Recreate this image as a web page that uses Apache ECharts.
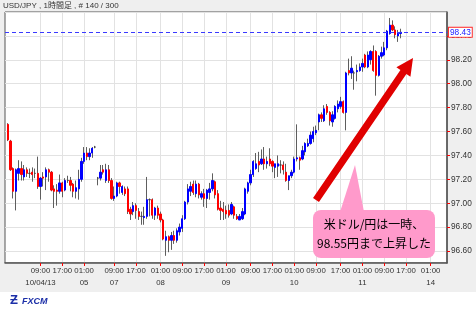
<!DOCTYPE html>
<html><head><meta charset="utf-8">
<script src="https://cdn.jsdelivr.net/npm/echarts@6/dist/echarts.min.js"></script>
<style>html,body{margin:0;padding:0;background:#efefef}#c{width:476px;height:309px}</style>
</head><body><div id="c"></div>
<script>
// ---- DATA ----
const titleText = 'USD/JPY , 1時間足 , # 140 / 300';
const opens = [97.66,97.52,97.29,97.10,97.25,97.29,97.22,97.28,97.25,97.26,97.25,97.25,97.14,97.22,97.22,97.28,97.26,97.12,97.11,97.10,97.17,97.11,97.19,97.19,97.16,97.10,97.12,97.20,97.35,97.42,97.39,97.42,97.47,
 97.21,97.21,97.28,97.19,97.28,97.19,97.04,97.06,97.17,97.09,97.12,97.12,96.95,96.93,96.98,96.93,96.89,96.88,96.89,97.03,97.03,96.90,96.96,96.91,96.86,96.69,96.72,96.69,96.73,96.69,96.76,96.79,96.87,97.01,97.10,97.16,97.08,97.16,
 97.05,97.08,97.04,97.09,97.12,97.18,97.08,96.96,96.95,96.94,96.94,96.91,96.97,96.89,96.86,96.87,96.91,97.10,97.17,97.24,97.29,97.35,97.33,97.37,97.33,97.37,97.35,97.30,97.31,97.32,97.32,97.26,97.19,97.23,97.26,97.37,97.38,
 97.37,97.43,97.48,97.50,97.54,97.59,97.68,97.74,97.69,97.81,97.76,97.68,97.71,97.79,97.81,97.85,97.76,98.11,98.09,98.09,98.10,98.11,98.14,98.24,98.14,98.20,98.27,98.27,98.07,98.23,98.24,98.30,98.42,98.49,98.45,98.40,98.42];
const closes = [97.53,97.28,97.10,97.28,97.29,97.24,97.28,97.25,97.25,97.24,97.25,97.14,97.21,97.21,97.28,97.26,97.11,97.10,97.10,97.17,97.10,97.19,97.19,97.15,97.10,97.13,97.20,97.35,97.42,97.39,97.42,97.46,97.47,
 97.21,97.26,97.26,97.28,97.19,97.04,97.06,97.17,97.14,97.14,97.08,96.93,96.91,96.98,96.94,96.89,96.89,96.89,97.03,97.03,96.90,96.96,96.90,96.86,96.70,96.72,96.69,96.73,96.69,96.77,96.80,96.87,97.01,97.12,97.14,97.09,97.16,97.07,
 97.08,97.04,97.11,97.12,97.19,97.07,96.95,96.94,96.93,96.91,96.90,96.99,96.90,96.87,96.89,96.93,97.12,97.17,97.24,97.35,97.33,97.32,97.37,97.33,97.35,97.33,97.31,97.33,97.33,97.32,97.28,97.19,97.23,97.26,97.37,97.38,97.36,
 97.44,97.50,97.50,97.57,97.60,97.61,97.74,97.71,97.79,97.76,97.69,97.74,97.81,97.83,97.85,97.76,98.09,98.09,98.13,98.09,98.11,98.14,98.17,98.14,98.24,98.27,98.11,98.07,98.23,98.26,98.30,98.44,98.49,98.45,98.41,98.42,98.43];
const lows = [97.52,97.27,97.04,96.94,97.19,97.19,97.19,97.22,97.21,97.18,97.21,97.12,97.03,97.14,97.11,97.18,97.10,96.96,96.98,97.08,97.05,97.10,97.17,97.10,97.05,97.04,97.03,97.18,97.33,97.36,97.36,97.38,97.46,
 97.15,97.19,97.24,97.17,97.17,97.03,97.02,97.05,97.08,97.07,97.06,96.91,96.86,96.90,96.87,96.86,96.82,96.82,96.87,96.89,96.87,96.86,96.87,96.84,96.69,96.56,96.59,96.61,96.66,96.67,96.73,96.76,96.86,96.99,97.06,97.07,97.05,97.04,
 97.03,96.97,96.96,97.03,97.10,97.04,96.94,96.86,96.86,96.87,96.88,96.90,96.87,96.86,96.86,96.86,96.90,97.08,97.15,97.22,97.28,97.26,97.32,97.28,97.29,97.31,97.26,97.21,97.22,97.25,97.24,97.18,97.11,97.21,97.25,97.35,97.28,
 97.36,97.40,97.47,97.49,97.51,97.57,97.61,97.68,97.68,97.74,97.65,97.64,97.70,97.76,97.79,97.75,97.61,98.07,98.04,97.95,98.02,98.10,98.10,98.13,98.13,98.16,98.10,97.90,98.06,98.21,98.23,98.28,98.41,98.44,98.38,98.35,98.38];
const highs = [97.67,97.53,97.30,97.29,97.36,97.35,97.32,97.30,97.29,97.30,97.29,97.39,97.22,97.26,97.30,97.29,97.27,97.15,97.16,97.24,97.18,97.21,97.23,97.22,97.17,97.19,97.28,97.38,97.47,97.47,97.46,97.47,97.48,
 97.22,97.32,97.32,97.33,97.32,97.21,97.14,97.18,97.18,97.15,97.14,97.14,96.97,97.01,97.00,96.96,96.93,96.97,97.22,97.04,97.04,96.97,96.98,96.93,96.87,96.77,96.73,96.76,96.77,96.79,96.83,96.90,97.02,97.16,97.18,97.19,97.19,97.17,
 97.10,97.12,97.12,97.17,97.25,97.19,97.11,97.02,97.01,96.98,96.99,97.01,96.98,96.91,96.91,96.96,97.13,97.18,97.28,97.36,97.42,97.43,97.45,97.47,97.39,97.46,97.36,97.33,97.40,97.36,97.35,97.33,97.23,97.28,97.39,97.66,97.39,
 97.48,97.51,97.54,97.60,97.64,97.65,97.75,97.76,97.82,97.83,97.77,97.77,97.82,97.86,97.89,97.86,98.10,98.21,98.23,98.11,98.16,98.17,98.21,98.25,98.27,98.28,98.32,98.28,98.24,98.31,98.35,98.45,98.55,98.53,98.48,98.45,98.46];
const lastPrice = 98.43;
const tickIdx = [13,21,29,40,48,57,65,73,81,90,98,106,114,123,131,139,147,156];
const tickTimes = ['09:00','17:00','01:00','09:00','17:00','01:00','09:00','17:00','01:00','09:00','17:00','01:00','09:00','17:00','01:00','09:00','17:00','01:00'];
const tickDates = ['10/04/13','','05','07','','08','','','09','','','10','','','11','','','14'];
const calloutText = '米ドル/円は一時、\n98.55円まで上昇した';

// ---- chart ----
const slotCount = 163, firstSlot = 1;
const cats = Array.from({length: slotCount}, (_, i) => String(i));
const timeMap = {}, dateMap = {};
tickIdx.forEach((t, j) => { timeMap[t] = tickTimes[j]; if (tickDates[j]) dateMap[t] = tickDates[j]; });
const isTick = (i) => timeMap[i] !== undefined;
const isDate = (i) => dateMap[i] !== undefined;

const wickData = opens.map((o, k) => [k + firstSlot, o, closes[k], lows[k], highs[k]]);
const bodyData = opens.map((o, k) => [k + firstSlot, o, closes[k], Math.min(o, closes[k]), Math.max(o, closes[k])]);

const chart = echarts.init(document.getElementById('c'), null, {renderer: 'canvas'});
const F = 'Liberation Sans, Arial, sans-serif';

// arrow geometry (annotation)
const tail = [316, 200], tip = [413, 58];
const dx = tip[0] - tail[0], dy = tip[1] - tail[1], L = Math.hypot(dx, dy);
const ux = dx / L, uy = dy / L, nx = -uy, ny = ux;
const hb = [tip[0] - 17 * ux, tip[1] - 17 * uy];

chart.setOption({
  animation: false,
  backgroundColor: '#efefef',
  grid: {left: 5, right: 29, top: 12, bottom: 46, show: true, backgroundColor: '#fff', borderColor: '#555', borderWidth: 1},
  xAxis: [{
    type: 'category', data: cats, boundaryGap: false,
    axisLine: {lineStyle: {color: '#555', width: 1.5}},
    axisTick: {interval: (i) => isTick(i), length: 3, lineStyle: {color: '#ff0000'}},
    axisLabel: {interval: (i) => isTick(i), formatter: (v, i) => timeMap[i] || '', fontSize: 7.8, fontFamily: F, color: '#333', margin: 4, showMinLabel: true, showMaxLabel: true, hideOverlap: false},
    splitLine: {show: true, interval: (i) => isTick(i), lineStyle: {color: '#e2e2e2'}}
  }, {
    type: 'category', data: cats, boundaryGap: false, position: 'bottom', offset: 12,
    axisLine: {show: false}, axisTick: {show: false}, splitLine: {show: false},
    axisLabel: {interval: (i) => isDate(i), formatter: (v, i) => dateMap[i] || '', fontSize: 7.8, fontFamily: F, color: '#333', margin: 4, showMinLabel: true, showMaxLabel: true, hideOverlap: false}
  }],
  yAxis: {
    type: 'value', position: 'right', min: 96.5, max: 98.6, scale: true, splitNumber: 10,
    axisLine: {show: true, lineStyle: {color: '#555', width: 1.5}},
    axisTick: {show: true, length: 3, lineStyle: {color: '#ff0000'}},
    axisLabel: {showMinLabel: false, showMaxLabel: false, formatter: (v) => v.toFixed(2), fontSize: 8.3, fontFamily: F, color: '#333', margin: 4},
    splitLine: {show: true, lineStyle: {color: '#e2e2e2'}}
  },
  series: [
    {type: 'candlestick', xAxisIndex: 0, data: wickData, encode: {x: 0, y: [1, 2, 3, 4]}, barWidth: 1, silent: true,
     itemStyle: {color: '#5e5e5e', color0: '#5e5e5e', borderColor: '#5e5e5e', borderColor0: '#5e5e5e', borderColorDoji: '#5e5e5e', borderWidth: 1},
     markLine: {silent: true, symbol: 'none', z: 10,
       lineStyle: {color: '#3a3aff', type: [4, 3], width: 1},
       label: {position: 'end', formatter: lastPrice.toFixed(2), color: '#2020ff', backgroundColor: '#fff', borderColor: '#ff3030', borderWidth: 1, padding: [1, 1, 0, 1], fontSize: 8.3, fontFamily: F, distance: 2},
       data: [{yAxis: lastPrice}]}},
    {type: 'candlestick', xAxisIndex: 0, data: bodyData, encode: {x: 0, y: [1, 2, 3, 4]}, barWidth: 1.8, silent: true,
     itemStyle: {color: '#0000ff', color0: '#ff0000', borderColor: '#0000ff', borderColor0: '#ff0000', borderColorDoji: '#444', borderWidth: 1}}
  ],
  graphic: [
    {type: 'rect', shape: {x: 0, y: 292, width: 476, height: 17}, style: {fill: '#fff'}, z: 1, silent: true},
    {type: 'text', x: 3, y: 2, style: {text: titleText, fontSize: 8, fontFamily: 'Liberation Sans, Noto Sans CJK JP, sans-serif', fill: '#333'}, z: 5},
    {type: 'text', x: 10, y: 294, style: {text: 'Ƶ', fontSize: 13, fontWeight: 'bold', fontFamily: F, fill: '#1c2fa8'}, z: 5},
    {type: 'text', x: 22, y: 297, style: {text: 'FXCM', fontSize: 9, fontWeight: 'bold', fontStyle: 'italic', fontFamily: F, fill: '#1c2fa8'}, z: 5},
    {type: 'polygon', z: 100, silent: true,
     shape: {points: [[tail[0] + 3.6 * nx, tail[1] + 3.6 * ny], [hb[0] + 3.6 * nx, hb[1] + 3.6 * ny], [hb[0] + 8.5 * nx, hb[1] + 8.5 * ny], tip, [hb[0] - 8.5 * nx, hb[1] - 8.5 * ny], [hb[0] - 3.6 * nx, hb[1] - 3.6 * ny], [tail[0] - 3.6 * nx, tail[1] - 3.6 * ny]]},
     style: {fill: '#e00000'}},
    {type: 'polygon', z: 100, silent: true, shape: {points: [[340, 212], [364, 212], [355, 165]]}, style: {fill: '#ff9acb'}},
    {type: 'rect', z: 100, silent: true, shape: {x: 313, y: 210, width: 122, height: 48, r: 8}, style: {fill: '#ff9acb'}},
    {type: 'text', z: 101, silent: true, x: 374, y: 234,
     style: {text: calloutText, fontSize: 12, lineHeight: 19, fontFamily: 'Noto Sans CJK JP, sans-serif', fill: '#000', align: 'center', verticalAlign: 'middle'}}
  ]
});
</script>
</body></html>
